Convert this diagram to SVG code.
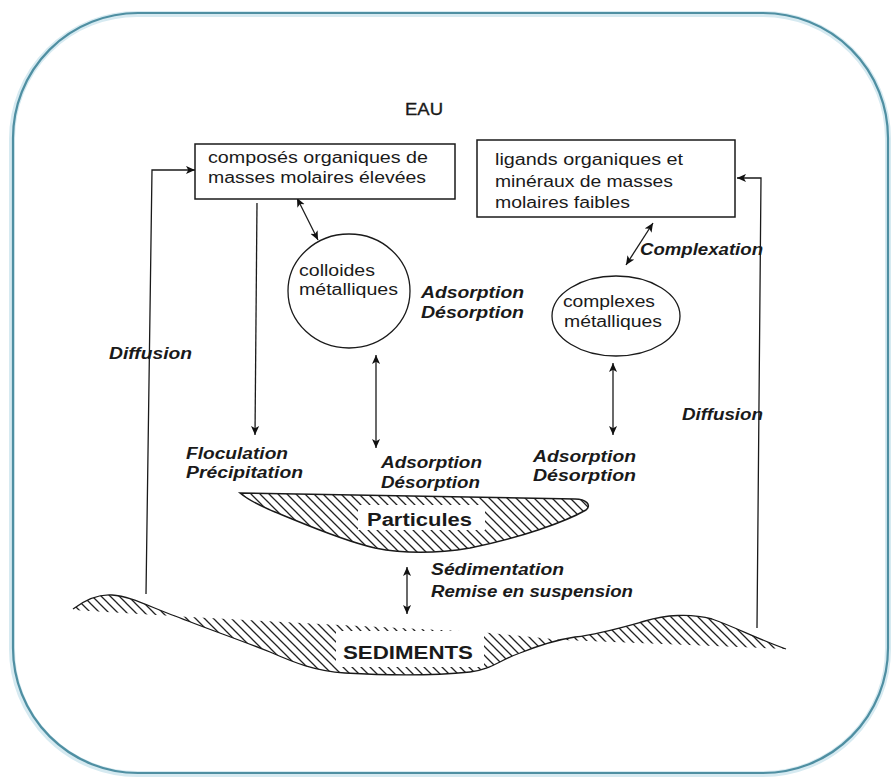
<svg xmlns="http://www.w3.org/2000/svg" width="893" height="778" viewBox="0 0 893 778">
<style>
.t{font-family:"Liberation Sans",Arial,sans-serif;font-size:16px;fill:#1a1a1a}
.i{font-family:"Liberation Sans",Arial,sans-serif;font-size:16px;font-weight:bold;font-style:italic;fill:#1a1a1a}
.b{font-family:"Liberation Sans",Arial,sans-serif;font-weight:bold;fill:#1a1a1a}
.box{fill:#fff;stroke:#1a1a1a;stroke-width:1.5}
.node{fill:#fff;stroke:#1a1a1a;stroke-width:1.3}
.c{fill:none;stroke:#1a1a1a;stroke-width:1.3}
.ar{marker-end:url(#ah)}
.dar{marker-start:url(#ah);marker-end:url(#ah)}
</style>
<defs>
<marker id="ah" viewBox="0 0 10 10" refX="10" refY="5" markerWidth="9" markerHeight="9" markerUnits="userSpaceOnUse" orient="auto-start-reverse">
<path d="M0,0.5 L10,5 L0,9.5 L2.5,5 z" fill="#111"/>
</marker>
<pattern id="hatch" patternUnits="userSpaceOnUse" width="9" height="9">
<path d="M-2,-2 L11,11 M-2,7 L2,11 M7,-2 L11,2" stroke="#222" stroke-width="1.3"/>
</pattern>
</defs>
<rect width="893" height="778" fill="#fff"/>
<g id="frame">
<rect x="12" y="14" width="876" height="760" rx="125" fill="none" stroke="#d6eaf1" stroke-width="6"/>
<rect x="13" y="13" width="875" height="760" rx="125" fill="none" stroke="#4f8fa2" stroke-width="2.2"/>
</g>

<g id="connectors">
<polyline class="c ar" points="146,594 152,170 195,170"/>
<polyline class="c ar" points="757,628 761,178 737,178"/>
<line class="c ar" x1="257" y1="203" x2="255" y2="435"/>
<line class="c dar" x1="297" y1="198" x2="318" y2="240"/>
<line class="c dar" x1="376" y1="355" x2="376" y2="448"/>
<line class="c dar" x1="653" y1="223" x2="626" y2="265"/>
<line class="c dar" x1="613" y1="363" x2="613" y2="435"/>
<line class="c dar" x1="407" y1="567" x2="407" y2="614"/>
</g>

<g id="eau"><text class="t" x="405" y="115" font-size="15" textLength="38" lengthAdjust="spacingAndGlyphs" style="stroke:#1a1a1a;stroke-width:0.3">EAU</text></g>

<g id="box-composes">
<rect class="box" x="195" y="144" width="260" height="55"/>
<text class="t" x="208" y="163" textLength="220" lengthAdjust="spacingAndGlyphs">composés organiques de</text>
<text class="t" x="208" y="183" textLength="218" lengthAdjust="spacingAndGlyphs">masses molaires élevées</text>
</g>

<g id="box-ligands">
<rect class="box" x="477" y="140" width="258" height="77"/>
<text class="t" x="495" y="165" textLength="188" lengthAdjust="spacingAndGlyphs">ligands organiques et</text>
<text class="t" x="495" y="187" textLength="178" lengthAdjust="spacingAndGlyphs">minéraux de masses</text>
<text class="t" x="495" y="208" textLength="135" lengthAdjust="spacingAndGlyphs">molaires faibles</text>
</g>

<g id="colloides">
<ellipse class="node" cx="349" cy="291" rx="61" ry="57"/>
<text class="t" x="299" y="276" textLength="76" lengthAdjust="spacingAndGlyphs">colloides</text>
<text class="t" x="299" y="295" textLength="99" lengthAdjust="spacingAndGlyphs">métalliques</text>
</g>

<g id="complexes">
<ellipse class="node" cx="616" cy="316" rx="64" ry="40"/>
<text class="t" x="563" y="307" textLength="92" lengthAdjust="spacingAndGlyphs">complexes</text>
<text class="t" x="564" y="327" textLength="98" lengthAdjust="spacingAndGlyphs">métalliques</text>
</g>

<g id="labels">
<text class="i" x="421" y="298" textLength="103" lengthAdjust="spacingAndGlyphs">Adsorption</text>
<text class="i" x="421" y="318" textLength="103" lengthAdjust="spacingAndGlyphs">Désorption</text>
<text class="i" x="640" y="255" textLength="123" lengthAdjust="spacingAndGlyphs">Complexation</text>
<text class="i" x="109" y="359" textLength="83" lengthAdjust="spacingAndGlyphs">Diffusion</text>
<text class="i" x="682" y="420" textLength="81" lengthAdjust="spacingAndGlyphs">Diffusion</text>
<text class="i" x="186" y="459" textLength="102" lengthAdjust="spacingAndGlyphs">Floculation</text>
<text class="i" x="186" y="478" textLength="117" lengthAdjust="spacingAndGlyphs">Précipitation</text>
<text class="i" x="381" y="468" textLength="101" lengthAdjust="spacingAndGlyphs">Adsorption</text>
<text class="i" x="381" y="488" textLength="99" lengthAdjust="spacingAndGlyphs">Désorption</text>
<text class="i" x="533" y="462" textLength="103" lengthAdjust="spacingAndGlyphs">Adsorption</text>
<text class="i" x="533" y="481" textLength="103" lengthAdjust="spacingAndGlyphs">Désorption</text>
<text class="i" x="431" y="575" font-size="15" textLength="133" lengthAdjust="spacingAndGlyphs">Sédimentation</text>
<text class="i" x="431" y="597" font-size="15" textLength="202" lengthAdjust="spacingAndGlyphs">Remise en suspension</text>
</g>

<g id="particules">
<path d="M240,493 L575,499 C586,499 592,505 586,510 C565,522 520,538 470,548 C440,553 405,554 375,548 C340,540 300,522 275,512 C258,505 246,498 240,493 Z" fill="url(#hatch)" stroke="#1a1a1a" stroke-width="1.5"/>
<rect x="358" y="505" width="127" height="25" fill="#fff"/>
<text class="b" x="367" y="526" font-size="18" textLength="105" lengthAdjust="spacingAndGlyphs">Particules</text>
</g>

<g id="sediments">
<path d="M73,609 C85,600 98,594 112,595 C130,596 150,607 175,616 C205,628 240,640 270,652 C295,663 315,671 345,673 C380,675 430,676 470,672 C490,670 500,660 520,653 C540,645 555,640 575,637 C600,634 620,628 645,621 C665,615 690,613 712,619 C735,627 760,640 786,649 L563,640 L480,632 L340,625 L190,617 L73,610 Z" fill="url(#hatch)"/>
<rect x="336" y="631" width="148" height="36" fill="#fff"/>
<path class="c" stroke-width="1.5" d="M73,609 C85,600 98,594 112,595 C130,596 150,607 175,616 C205,628 240,640 270,652 C295,663 315,671 345,673 C380,675 430,676 470,672 C490,670 500,660 520,653 C540,645 555,640 575,637 C600,634 620,628 645,621 C665,615 690,613 712,619 C735,627 760,640 786,649"/>
<text class="b" x="343" y="659" font-size="19" textLength="130" lengthAdjust="spacingAndGlyphs">SEDIMENTS</text>
</g>
</svg>
